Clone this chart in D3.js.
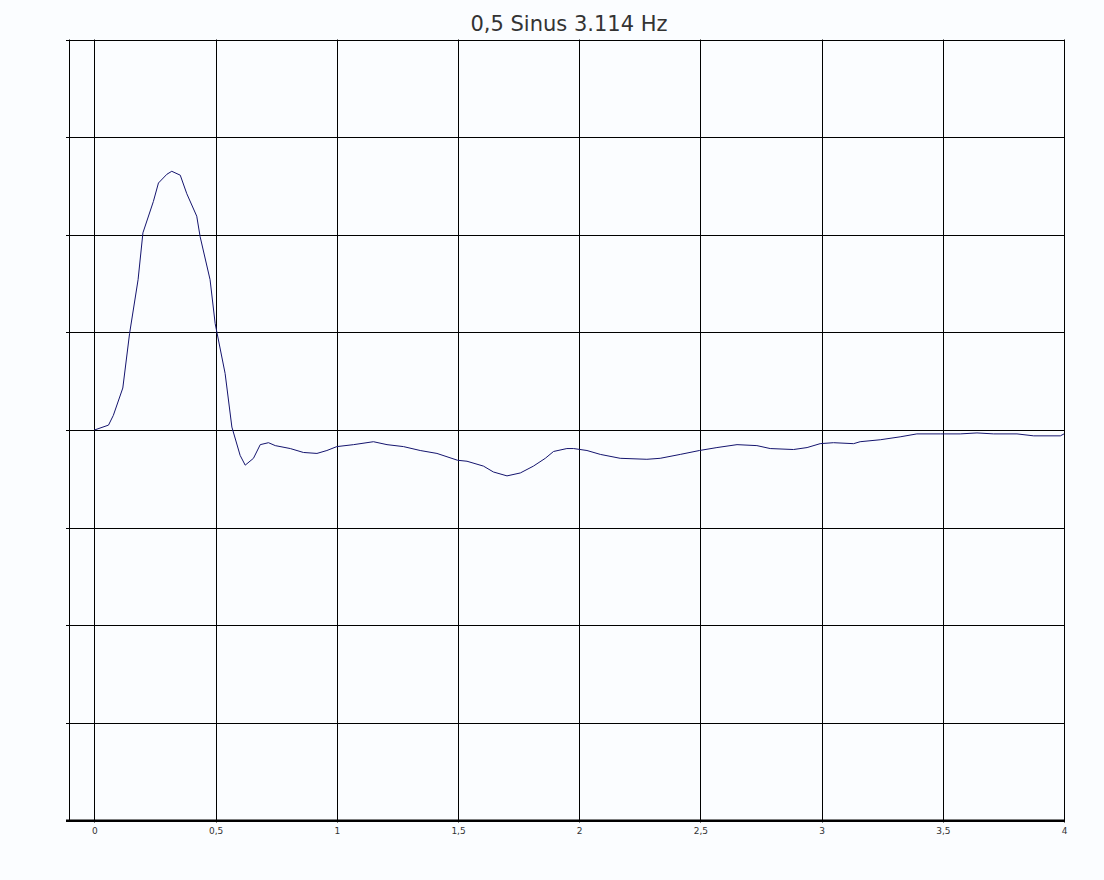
<!DOCTYPE html>
<html>
<head>
<meta charset="utf-8">
<script src="https://cdn.jsdelivr.net/npm/d3@7"></script>
<style>
  body { margin: 0; background: #fbfdff; }
  svg { display: block; }
</style>
</head>
<body>
<div id="chart"></div>
<script>
// time (s) and response values
let times = [0, 0.058, 0.078, 0.117, 0.145, 0.18, 0.2, 0.243, 0.264, 0.299, 0.319, 0.354, 0.381, 0.422, 0.436, 0.477, 0.498, 0.539, 0.567, 0.601, 0.622, 0.656, 0.684, 0.718, 0.746, 0.808, 0.862, 0.918, 0.959, 1.0, 1.069, 1.151, 1.207, 1.275, 1.344, 1.413, 1.498, 1.537, 1.605, 1.646, 1.702, 1.757, 1.811, 1.86, 1.894, 1.949, 1.977, 2.032, 2.087, 2.169, 2.279, 2.334, 2.417, 2.496, 2.568, 2.651, 2.733, 2.788, 2.884, 2.94, 2.994, 3.049, 3.132, 3.159, 3.242, 3.324, 3.393, 3.49, 3.572, 3.641, 3.71, 3.806, 3.875, 3.985, 4.0];
let values = [0, 0.05, 0.15, 0.43, 0.99, 1.54, 2.02, 2.34, 2.53, 2.62, 2.65, 2.61, 2.42, 2.19, 1.98, 1.54, 1.09, 0.58, 0.03, -0.26, -0.36, -0.29, -0.15, -0.13, -0.16, -0.19, -0.23, -0.24, -0.21, -0.17, -0.15, -0.12, -0.15, -0.17, -0.21, -0.24, -0.31, -0.32, -0.37, -0.43, -0.47, -0.44, -0.37, -0.29, -0.22, -0.19, -0.19, -0.21, -0.25, -0.29, -0.30, -0.29, -0.25, -0.21, -0.18, -0.15, -0.16, -0.19, -0.20, -0.18, -0.14, -0.13, -0.14, -0.12, -0.10, -0.07, -0.04, -0.04, -0.04, -0.03, -0.04, -0.04, -0.06, -0.06, -0.04];
let xTicks = [0, 0.5, 1, 1.5, 2, 2.5, 3, 3.5, 4];
let yTicks = [-4, -3, -2, -1, 0, 1, 2, 3, 4];
let title = "0,5 Sinus 3.114 Hz";

let W = 1104, H = 880;
let plot = {left: 69, right: 1064, top: 39.5, bottom: 820.5};

let svg = d3.select("#chart").append("svg")
    .attr("width", W)
    .attr("height", H);

svg.append("rect").attr("width", W).attr("height", H).attr("fill", "#fbfdff");

let x = d3.scaleLinear().domain([-0.105, 4]).range([plot.left, plot.right]);
let y = d3.scaleLinear().domain([-4, 4]).range([plot.bottom, plot.top]);

// title
svg.append("text")
    .attr("x", 569).attr("y", 31)
    .attr("text-anchor", "middle")
    .style("font-family", "'DejaVu Sans', Verdana, sans-serif")
    .style("font-size", "21px")
    .style("fill", "#333")
    .text(title);

// grid
svg.append("g").selectAll("line").data(yTicks).enter().append("line")
    .attr("x1", plot.left - 3).attr("x2", plot.right)
    .attr("y1", d => Math.round(y(d)) + 0.5).attr("y2", d => Math.round(y(d)) + 0.5)
    .attr("stroke", "#000").attr("stroke-width", 1);

svg.append("g").selectAll("line").data(xTicks).enter().append("line")
    .attr("x1", d => Math.round(x(d)) + 0.5).attr("x2", d => Math.round(x(d)) + 0.5)
    .attr("y1", plot.top).attr("y2", plot.bottom + 2)
    .attr("stroke", "#000").attr("stroke-width", 1);

// left border
svg.append("line")
    .attr("x1", plot.left + 0.5).attr("x2", plot.left + 0.5)
    .attr("y1", plot.top).attr("y2", plot.bottom)
    .attr("stroke", "#000");

// bottom axis
let xAxis = d3.axisBottom(x)
    .tickValues(xTicks)
    .tickSize(0)
    .tickPadding(7)
    .tickFormat(d => String(d).replace(".", ","));

let ax = svg.append("g")
    .attr("transform", "translate(0," + plot.bottom + ")")
    .call(xAxis);
ax.select(".domain").remove();
ax.selectAll("text")
    .style("font-family", "'DejaVu Sans', Verdana, sans-serif")
    .style("font-size", "9px")
    .style("fill", "#333");

svg.append("line")
    .attr("x1", plot.left - 3).attr("x2", plot.right + 1)
    .attr("y1", plot.bottom).attr("y2", plot.bottom)
    .attr("stroke", "#000").attr("stroke-width", 2);

// the curve
let line = d3.line()
    .x((d, i) => x(times[i]))
    .y(d => y(d));

svg.append("path")
    .datum(values)
    .attr("d", line)
    .attr("fill", "none")
    .attr("stroke", "#14146e")
    .attr("stroke-width", 1);
</script>
</body>
</html>
